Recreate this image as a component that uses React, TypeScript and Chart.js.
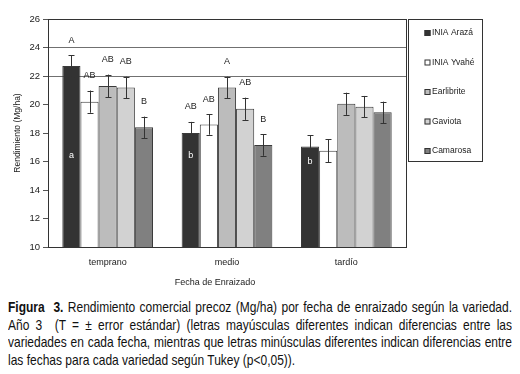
import React, { useEffect, useRef } from "react";
import { Chart, registerables } from "chart.js";

Chart.register(...registerables);

const categories = ["temprano", "medio", "tardío"];
const varieties = ["INIA Arazá", "INIA Yvahé", "Earlibrite", "Gaviota", "Camarosa"];
const arazaValues = [22.7, 18.0, 17.05];
const yvaheValues = [20.2, 18.6, 16.75];
const earlibriteValues = [21.3, 21.2, 20.05];
const gaviotaValues = [21.2, 19.7, 19.85];
const camarosaValues = [18.4, 17.15, 19.45];
const arazaErrors = [0.75, 0.78, 0.78];
const yvaheErrors = [0.78, 0.72, 0.8];
const earlibriteErrors = [0.8, 0.75, 0.78];
const gaviotaErrors = [0.75, 0.78, 0.75];
const camarosaErrors = [0.75, 0.75, 0.75];
const arazaUpper = ["A", "AB", ""];
const yvaheUpper = ["AB", "AB", ""];
const earlibriteUpper = ["AB", "A", ""];
const gaviotaUpper = ["AB", "AB", ""];
const camarosaUpper = ["B", "B", ""];
const arazaLower = ["a", "b", "b"];
const yTicks = [10, 12, 14, 16, 18, 20, 22, 24, 26];
const xTitle = "Fecha de Enraizado";
const yTitle = "Rendimiento (Mg/ha)";
const captionLines = [
  "Rendimiento comercial precoz (Mg/ha) por fecha de enraizado según la variedad.",
  "Año 3\u00a0 (T = ± error estándar) (letras mayúsculas diferentes indican diferencias entre las",
  "variedades en cada fecha, mientras que letras minúsculas diferentes indican diferencias entre",
  "las fechas para cada variedad según Tukey (p<0,05)).",
];

const FONT = '"Liberation Sans", Arial, sans-serif';
const colors = ["#333333", "#ffffff", "#bcbcbc", "#d2d2d2", "#808080"];

export default function App() {
  const ref = useRef<HTMLCanvasElement>(null);
  useEffect(() => {
    document.body.style.margin = "0";
    const values = [arazaValues, yvaheValues, earlibriteValues, gaviotaValues, camarosaValues];
    const errors = [arazaErrors, yvaheErrors, earlibriteErrors, gaviotaErrors, camarosaErrors];
    const uppers = [arazaUpper, yvaheUpper, earlibriteUpper, gaviotaUpper, camarosaUpper];

    const extras = {
      id: "extras",
      afterDatasetsDraw(chart: any) {
        const ctx = chart.ctx;
        const ys = chart.scales.y;
        const area = chart.chartArea;
        ctx.save();
        ctx.strokeStyle = "#333";
        ctx.lineWidth = 1;
        values.forEach((vals, di) => {
          const meta = chart.getDatasetMeta(di);
          meta.data.forEach((el: any, i: number) => {
            const x = Math.round(el.x) + 0.5;
            const top = ys.getPixelForValue(vals[i] + errors[di][i]);
            const bot = ys.getPixelForValue(vals[i] - errors[di][i]);
            ctx.strokeStyle = "#333";
            ctx.beginPath();
            ctx.moveTo(x, top);
            ctx.lineTo(x, bot);
            ctx.moveTo(x - 3, Math.round(top) + 0.5);
            ctx.lineTo(x + 3, Math.round(top) + 0.5);
            ctx.moveTo(x - 3, Math.round(bot) + 0.5);
            ctx.lineTo(x + 3, Math.round(bot) + 0.5);
            ctx.stroke();
            const t = uppers[di][i];
            if (t) {
              ctx.fillStyle = "#222";
              ctx.font = "9px " + FONT;
              ctx.textAlign = "center";
              ctx.textBaseline = "middle";
              ctx.fillText(t, el.x, top - 15);
            }
          });
        });
        const m0 = chart.getDatasetMeta(0);
        m0.data.forEach((el: any, i: number) => {
          const y = Math.max(ys.getPixelForValue(16.45), el.y + 15);
          ctx.fillStyle = "#fff";
          ctx.font = "9px " + FONT;
          ctx.textAlign = "center";
          ctx.textBaseline = "middle";
          ctx.fillText(arazaLower[i], el.x, y);
        });
        ctx.strokeStyle = "#333";
        ctx.strokeRect(Math.round(area.left) + 0.5, Math.round(area.top) + 0.5, Math.round(area.right - area.left), Math.round(area.bottom - area.top));
        ctx.fillStyle = "#222";
        ctx.font = "9px " + FONT;
        ctx.textAlign = "center";
        ctx.textBaseline = "middle";
        ctx.fillText(xTitle, 215, 283);
        const lx = Math.round(area.right) + 2.5;
        const ly = Math.round(area.top) + 0.5;
        ctx.strokeRect(lx, ly, 74, 142);
        varieties.forEach((name, i) => {
          const cy = area.top + 14 + i * 29.5;
          ctx.fillStyle = colors[i];
          ctx.fillRect(lx + 16, cy - 3, 6, 6);
          ctx.strokeStyle = "#333";
          ctx.strokeRect(lx + 16.5, cy - 2.5, 5, 5);
          ctx.fillStyle = "#222";
          ctx.font = "8.5px " + FONT;
          ctx.textAlign = "left";
          ctx.textBaseline = "middle";
          ctx.fillText(name, lx + 23.5, cy);
        });
        ctx.restore();
      },
    };

    const chart = new Chart(ref.current!, {
      type: "bar",
      data: {
        labels: categories,
        datasets: varieties.map((v, i) => ({
          label: v,
          data: values[i],
          backgroundColor: colors[i],
          borderColor: "#3a3a3a",
          borderWidth: 1,
          categoryPercentage: 0.76,
          barPercentage: 1.0,
        })),
      },
      options: {
        animation: false,
        responsive: false,
        layout: { padding: { left: 0, top: 19, right: 114, bottom: 0 } },
        plugins: { legend: { display: false }, tooltip: { enabled: false } },
        scales: {
          x: {
            grid: { display: false },
            border: { color: "#333" },
            ticks: { color: "#222", font: { family: FONT, size: 9 }, padding: 2 },
            afterFit: (s: any) => { s.height = 48; },
          },
          y: {
            min: 10,
            max: 26,
            afterBuildTicks: (s: any) => { s.ticks = yTicks.map((v) => ({ value: v })); },
            grid: {
              color: (c: any) => (c.tick && (c.tick.value === 22 || c.tick.value === 24) ? "#707070" : "rgba(0,0,0,0)"),
              tickColor: "#555",
              tickLength: 5,
            },
            border: { color: "#333" },
            ticks: { color: "#222", font: { family: FONT, size: 9.5 }, padding: 3 },
            title: { display: true, text: yTitle, color: "#222", font: { family: FONT, size: 8.5 }, padding: { top: 13, bottom: 0 } },
            afterFit: (s: any) => { s.width = 48; },
          },
        },
      },
      plugins: [extras],
    });
    return () => chart.destroy();
  }, []);

  const scale = 0.8;
  return (
    <div style={{ position: "relative", width: 520, height: 374, background: "#fff", overflow: "hidden" }}>
      <canvas ref={ref} width={520} height={295} style={{ position: "absolute", left: 0, top: 0 }} />
      <div
        style={{
          position: "absolute",
          left: 8,
          top: 298,
          width: 504 / scale,
          transform: `scaleX(${scale})`,
          transformOrigin: "0 0",
          fontFamily: FONT,
          fontSize: 15,
          lineHeight: "17.5px",
          color: "#111",
        }}
      >
        {captionLines.map((line, i) => (
          <div
            key={i}
            style={{
              whiteSpace: "nowrap",
              textAlign: i < captionLines.length - 1 ? "justify" : "left",
              textAlignLast: i < captionLines.length - 1 ? "justify" : "left",
            }}
          >
            {i === 0 ? <b>Figura&nbsp; 3. </b> : null}
            {line}
          </div>
        ))}
      </div>
    </div>
  );
}
